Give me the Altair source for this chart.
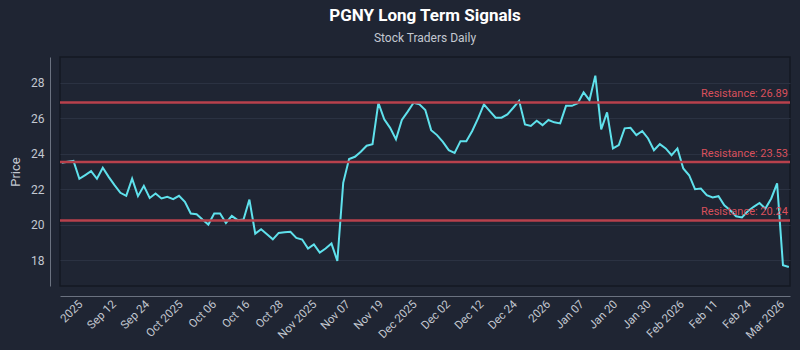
import altair as alt
import pandas as pd

prices = [
    23.49, 23.55, 23.60, 22.59, 22.80, 23.02, 22.59, 23.21, 22.70, 22.23,
    21.80, 21.63, 22.60, 21.61, 22.19, 21.51, 21.76, 21.48, 21.57, 21.44,
    21.63, 21.29, 20.63, 20.59, 20.29, 20.01, 20.63, 20.63, 20.10, 20.50,
    20.26, 20.29, 21.42, 19.50, 19.75, 19.47, 19.18, 19.54, 19.58, 19.60,
    19.26, 19.17, 18.66, 18.89, 18.43, 18.66, 18.94, 17.96, 22.36, 23.70,
    23.83, 24.11, 24.45, 24.54, 26.87, 25.94, 25.46, 24.81, 25.90, 26.37,
    26.87, 26.78, 26.46, 25.33, 25.05, 24.67, 24.20, 24.05, 24.71, 24.71,
    25.28, 25.99, 26.78, 26.40, 26.03, 26.03, 26.22, 26.59, 26.98, 25.65,
    25.57, 25.86, 25.61, 25.90, 25.77, 25.71, 26.70, 26.70, 26.84, 27.46,
    27.02, 28.40, 25.37, 26.33, 24.30, 24.49, 25.43, 25.46, 25.05, 25.28,
    24.86, 24.20, 24.54, 24.30, 23.92, 24.30, 23.17, 22.79, 22.00, 22.04,
    21.67, 21.54, 21.61, 21.10, 20.82, 20.48, 20.41, 20.76, 21.01, 21.23,
    20.91, 21.48, 22.33, 17.72, 17.62,
]

tick_labels = [
    "2025", "Sep 12", "Sep 24", "Oct 2025", "Oct 06", "Oct 16", "Oct 28",
    "Nov 2025", "Nov 07", "Nov 19", "Dec 2025", "Dec 02", "Dec 12", "Dec 24",
    "2026", "Jan 07", "Jan 20", "Jan 30", "Feb 2026", "Feb 11", "Feb 24",
    "Mar 2026",
]

levels = [26.89, 23.53, 20.24]
level_labels = ["Resistance: 26.89", "Resistance: 23.53", "Resistance: 20.24"]
y_ticks = [18, 20, 22, 24, 26, 28]

df = pd.DataFrame({"i": list(range(len(prices))), "price": prices})
res = pd.DataFrame({"price": levels, "label": level_labels})

tick_start, tick_step = 2.5, 5.7
tick_vals = [round(tick_start + k * tick_step, 3) for k in range(len(tick_labels))]
label_expr = ("[" + ",".join(f"'{t}'" for t in tick_labels) + "]"
              + f"[round((datum.value - {tick_start}) / {tick_step})]")

BG = "#1f2533"
AXIS_GREY = "#6b7280"
LABEL = "#c3c8d1"
FONT = "Roboto"

x_enc = alt.X(
    "i:Q",
    scale=alt.Scale(domain=[-0.3, 124.2], nice=False, zero=False),
    axis=alt.Axis(
        values=tick_vals, labelExpr=label_expr, labelAngle=-45, offset=10,
        grid=False, ticks=False, title=None, domainColor=AXIS_GREY,
        labelColor=LABEL, labelFont=FONT, labelFontSize=11.5, labelPadding=2,
        labelOverlap=False, labelBound=False, labelFlush=False,
    ),
)
y_scale = alt.Scale(domain=[16.55, 29.45], nice=False, zero=False)
y_enc = alt.Y(
    "price:Q",
    scale=y_scale,
    axis=alt.Axis(
        values=y_ticks, offset=10, ticks=False, title="Price", grid=True,
        gridColor="#2b3242", gridWidth=1, domainColor=AXIS_GREY,
        labelColor=LABEL, labelFont=FONT, labelFontSize=12, labelPadding=6,
        titleColor=LABEL, titleFont=FONT, titleFontSize=13,
        titleFontWeight="normal", titlePadding=8,
    ),
)

rules = alt.Chart(res).mark_rule(color="#b8414c", strokeWidth=2.5).encode(
    y=alt.Y("price:Q", scale=y_scale, title="Price")
)
labels = alt.Chart(res).mark_text(
    align="right", baseline="bottom", dy=-3, color="#d9505c",
    font=FONT, fontSize=11,
).encode(
    x=alt.value(728),
    y=alt.Y("price:Q", scale=y_scale, title="Price"),
    text="label:N",
)
line = alt.Chart(df).mark_line(color="#5fe1ec", strokeWidth=2).encode(
    x=x_enc, y=y_enc
)

chart = alt.layer(line, rules, labels).properties(
    width=730,
    height=229,
    background=BG,
    padding={"left": 60, "top": 57, "right": 10, "bottom": 64},
    autosize=alt.AutoSizeParams(type="none"),
    title=alt.TitleParams(
        "PGNY Long Term Signals",
        subtitle="Stock Traders Daily",
        color="#ffffff",
        subtitleColor="#c3c8d1",
        font=FONT,
        subtitleFont=FONT,
        fontSize=17,
        fontWeight="bold",
        subtitleFontSize=12,
        subtitlePadding=8,
        anchor="middle",
        offset=12,
    ),
).configure_view(stroke="#141923", strokeWidth=1.5)

chart.save("out.html", embed_options={"renderer": "svg", "actions": False})
